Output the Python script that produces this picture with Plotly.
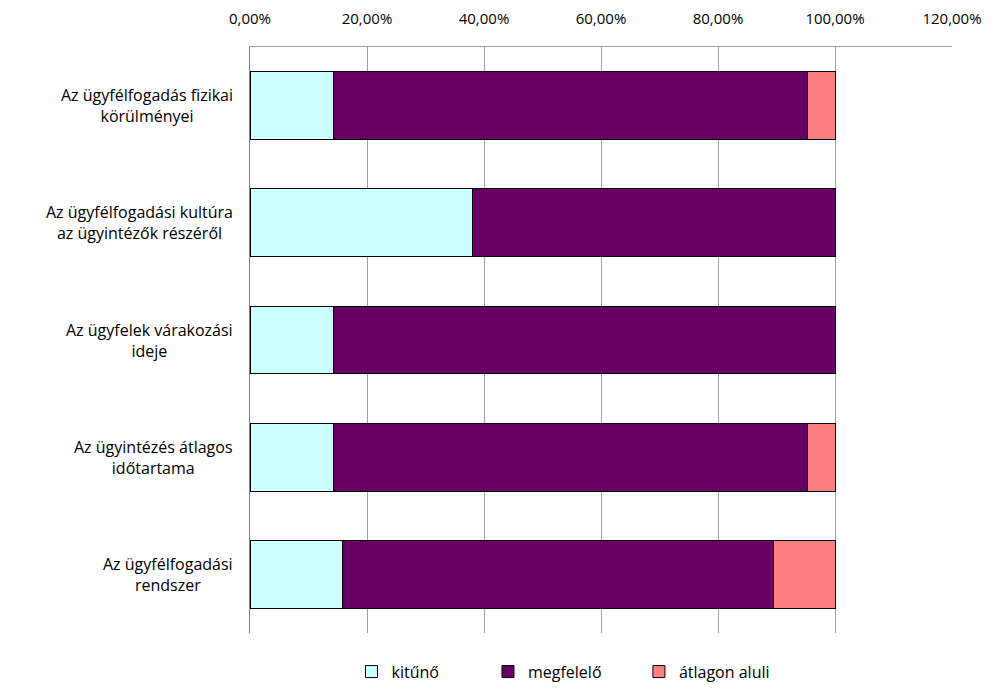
import plotly.graph_objects as go

categories = [
    "Az ügyfélfogadás fizikai<br>körülményei",
    "Az ügyfélfogadási kultúra<br>az ügyintézők részéről",
    "Az ügyfelek várakozási<br>ideje",
    "Az ügyintézés átlagos<br>időtartama",
    "Az ügyfélfogadási<br>rendszer",
]
kituno = [0.1429, 0.3810, 0.1429, 0.1429, 0.1579]
megfelelo = [0.8095, 0.6190, 0.8571, 0.8095, 0.7368]
atlagon_aluli = [0.0476, 0.0, 0.0, 0.0476, 0.1053]
series_names = ["kitűnő", "megfelelő", "átlagon aluli"]
colors = ["#CCFFFF", "#660066", "#FF8080"]
tick_vals = [0, 0.2, 0.4, 0.6, 0.8, 1.0, 1.2]

font_family = "'Open Sans', Lato, sans-serif"
legend_ids = ["legend", "legend2", "legend3"]
legend_x = [0.1446, 0.339, 0.554]

fig = go.Figure()
for name, vals, col, lid in zip(series_names, [kituno, megfelelo, atlagon_aluli], colors, legend_ids):
    fig.add_trace(go.Bar(
        y=categories, x=vals, name=name, orientation="h",
        marker=dict(color=col, line=dict(color="#000000", width=1)),
        width=0.58, legend=lid,
    ))

for cat in categories:
    fig.add_annotation(
        x=-0.021, xref="paper", y=cat, yref="y", text=cat,
        showarrow=False, xanchor="right", yanchor="middle", align="center",
        font=dict(family=font_family, size=16, color="#000000"),
    )

legend_common = dict(
    orientation="h", xanchor="left", y=-0.037, yanchor="top",
    font=dict(family=font_family, size=16), bgcolor="rgba(0,0,0,0)",
)

fig.update_layout(
    barmode="stack",
    width=979, height=675,
    margin=dict(l=242, r=35, t=39, b=50, autoexpand=False),
    plot_bgcolor="white", paper_bgcolor="white",
    separators=", ",
    font=dict(family=font_family, size=15, color="#000000"),
    showlegend=True,
    legend=dict(x=legend_x[0], **legend_common),
    legend2=dict(x=legend_x[1], **legend_common),
    legend3=dict(x=legend_x[2], **legend_common),
    xaxis=dict(
        side="top", range=[0, 1.2], tickvals=tick_vals, tickformat=".2%",
        showgrid=True, gridcolor="#A0A0A0", gridwidth=1,
        showline=True, linecolor="#A0A0A0", linewidth=1,
        zeroline=False, ticks="", tickfont=dict(size=15),
        ticklabelstandoff=16,
    ),
    yaxis=dict(
        autorange="reversed", showticklabels=False,
        showline=True, linecolor="#808080", linewidth=1,
        showgrid=False, ticks="",
    ),
    bargap=0.42,
)

fig.write_html("out.html")
